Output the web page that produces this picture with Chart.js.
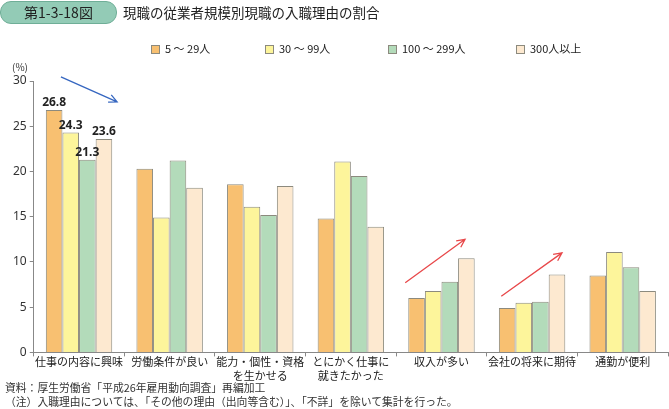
<!DOCTYPE html>
<html>
<head>
<meta charset="utf-8">
<script src="https://cdn.jsdelivr.net/npm/chart.js@4/dist/chart.umd.min.js"></script>
<style>
  body { margin: 0; background: #fff; font-family: 'Noto Sans CJK JP', 'Noto Sans', sans-serif; }
  #wrap { position: relative; width: 669px; height: 409px; }
  #badge {
    position: absolute; left: 0; top: 1px; width: 115px; height: 21px;
    background: #93cbb6; border: 1px solid #6fae97; border-radius: 11px;
    font-size: 14px; line-height: 21px; text-align: center; color: #222;
  }
  #title { position: absolute; left: 123px; top: 1px; font-size: 13.5px; line-height: 22px; color: #222; }
  #unit { position: absolute; left: 12px; top: 59px; font-size: 10px; color: #333; }
  .note { position: absolute; left: 5px; font-size: 10.8px; color: #333; line-height: 13px; }
  .leg { position: absolute; top: 40px; font-size: 11px; color: #222; line-height: 16px; white-space: nowrap; }
  .leg i { display: inline-block; width: 7px; height: 7px; border: 1px solid #8c8a7e; margin-right: 5px; vertical-align: -1px; }
  canvas { position: absolute; left: 0; top: 0; }
</style>
</head>
<body>
<div id="wrap">
  <canvas id="reason-chart" width="669" height="409"></canvas>
  <div id="badge">第1-3-18図</div>
  <div id="title">現職の従業者規模別現職の入職理由の割合</div>
  <div id="unit">(%)</div>
  <div class="note" style="top:381px">資料：厚生労働省「平成26年雇用動向調査」再編加工</div>
  <div class="note" style="top:395px">（注）入職理由については、「その他の理由（出向等含む）」、「不詳」を除いて集計を行った。</div>
</div>
<script>
// categories and series
const categories = [
    '仕事の内容に興味',
    '労働条件が良い',
    ['能力・個性・資格', 'を生かせる'],
    ['とにかく仕事に', '就きたかった'],
    '収入が多い',
    '会社の将来に期待',
    '通勤が便利',
];
const seriesNames = ['5 ～ 29人', '30 ～ 99人', '100 ～ 299人', '300人以上'];
const size5to29    = [26.8, 20.3, 18.6, 14.8, 6.0, 4.9, 8.5];
const size30to99   = [24.3, 14.9, 16.1, 21.1, 6.8, 5.5, 11.1];
const size100to299 = [21.3, 21.2, 15.2, 19.5, 7.8, 5.6, 9.4];
const size300plus  = [23.6, 18.2, 18.4, 13.9, 10.4, 8.6, 6.8];
const yTicks = [0, 5, 10, 15, 20, 25, 30];

// trend arrows, in category index / percent units
const arrows = [
    { from: [-0.2, 30.45], to: [0.42, 27.7], color: '#3566c0' },
    { from: [3.6, 7.7], to: [4.26, 12.5], color: '#e8484a' },
    { from: [4.66, 6.2], to: [5.33, 11.0], color: '#e8484a' },
];

const colors = ['#f8c071', '#fdf59b', '#b3dbba', '#fde9d0'];
const seriesData = [size5to29, size30to99, size100to299, size300plus];
const legendLeft = [151, 265, 388, 516]; // px, legend item positions

// html legend
seriesNames.forEach((name, i) => {
    const el = document.createElement('div');
    el.className = 'leg';
    el.style.left = legendLeft[i] + 'px';
    el.innerHTML = '<i style="background:' + colors[i] + '"></i>' + name;
    document.getElementById('wrap').appendChild(el);
});

const arrowPlugin = {
    id: 'arrows',
    afterDraw(chart) {
        const { ctx, scales: { x, y } } = chart;
        ctx.save();
        arrows.forEach(a => {
            const x0 = x.getPixelForValue(a.from[0]), y0 = y.getPixelForValue(a.from[1]);
            const x1 = x.getPixelForValue(a.to[0]), y1 = y.getPixelForValue(a.to[1]);
            const ang = Math.atan2(y1 - y0, x1 - x0);
            ctx.strokeStyle = a.color;
            ctx.lineWidth = 1.3;
            ctx.beginPath();
            ctx.moveTo(x0, y0);
            ctx.lineTo(x1, y1);
            ctx.moveTo(x1 - 9 * Math.cos(ang - 0.45), y1 - 9 * Math.sin(ang - 0.45));
            ctx.lineTo(x1, y1);
            ctx.lineTo(x1 - 9 * Math.cos(ang + 0.45), y1 - 9 * Math.sin(ang + 0.45));
            ctx.stroke();
        });
        ctx.restore();
    }
};

// value labels only for the first category
const labelPlugin = {
    id: 'firstLabels',
    afterDatasetsDraw(chart) {
        const { ctx } = chart;
        ctx.save();
        ctx.font = 'bold 12px "Noto Sans", sans-serif';
        ctx.fillStyle = '#222';
        ctx.textAlign = 'center';
        ctx.textBaseline = 'bottom';
        chart.data.datasets.forEach((ds, i) => {
            const bar = chart.getDatasetMeta(i).data[0];
            ctx.fillText(ds.data[0].toFixed(1), bar.x, bar.y - 1);
        });
        ctx.restore();
    }
};

new Chart(document.getElementById('reason-chart').getContext('2d'), {
    type: 'bar',
    data: {
        labels: categories,
        datasets: seriesNames.map((name, i) => ({
            label: name,
            data: seriesData[i],
            backgroundColor: colors[i],
            borderColor: '#8c8a7e',
            borderWidth: 1,
            categoryPercentage: 0.733,
            barPercentage: 1,
        })),
    },
    options: {
        responsive: false,
        animation: false,
        layout: { padding: { top: 81, right: 1, left: 10, bottom: 28 } },
        plugins: {
            legend: { display: false },
            tooltip: { enabled: false },
        },
        scales: {
            x: {
                grid: { display: true, drawOnChartArea: false, tickLength: 4, color: '#888' },
                border: { color: '#888' },
                ticks: {
                    color: '#222',
                    padding: -2,
                    font: { family: '"Noto Sans CJK JP", sans-serif', size: 11, lineHeight: 1.3 },
                    maxRotation: 0,
                    autoSkip: false,
                },
            },
            y: {
                min: 0,
                max: 30,
                afterBuildTicks(axis) { axis.ticks = yTicks.map(v => ({ value: v })); },
                grid: { display: true, drawOnChartArea: false, tickLength: 4, color: '#888' },
                border: { color: '#888' },
                ticks: { color: '#333', padding: 3, font: { family: '"Noto Sans", sans-serif', size: 12 } },
            },
        },
    },
    plugins: [arrowPlugin, labelPlugin],
});
</script>
</body>
</html>
